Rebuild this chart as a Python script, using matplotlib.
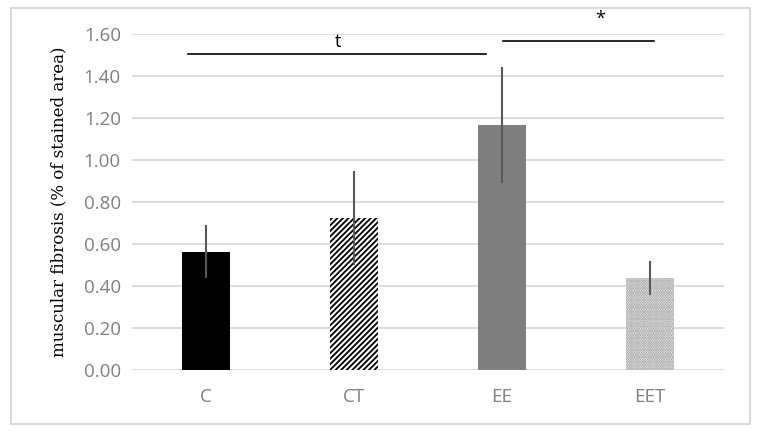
import matplotlib
matplotlib.use("Agg")
import matplotlib.pyplot as plt
from matplotlib.patches import Rectangle

categories = ["C", "CT", "EE", "EET"]
means = [0.562, 0.722, 1.166, 0.436]
errors = [0.127, 0.224, 0.277, 0.080]
yticks = [0.0, 0.2, 0.4, 0.6, 0.8, 1.0, 1.2, 1.4, 1.6]

plt.rcParams["hatch.linewidth"] = 1.3
fig = plt.figure(figsize=(7.59, 4.36), dpi=100)
# outer frame
fig.patches.append(Rectangle((11/759, 1-424/436), (750-11)/759, (424-8)/436,
                             transform=fig.transFigure, fill=False,
                             edgecolor="#d9d9d9", linewidth=1.5))
ax = fig.add_axes([132/759, 1-369.7/436, (724-132)/759, (369.7-34)/436])

x = list(range(len(categories)))
w = 0.32
fills = ["black", "white", "#7f7f7f", "white"]
hatches = [None, "//////", None, "......."]
edges = ["black", "black", "#7f7f7f", "#8c8c8c"]
for i in x:
    ax.bar(i, means[i], width=w, color=fills[i], hatch=hatches[i],
           edgecolor=edges[i], linewidth=0, zorder=3)
    ax.errorbar(i, means[i], yerr=errors[i], fmt="none", ecolor="#595959",
                elinewidth=1.5, capsize=0, zorder=4)

ax.set_xlim(-0.5, 3.5)
ax.set_ylim(0, 1.6)
ax.set_yticks(yticks)
ax.set_yticklabels([f"{v:.2f}" for v in yticks])
ax.set_xticks(x)
ax.set_xticklabels(categories)
ax.tick_params(length=0, labelsize=13.5, labelcolor="#7f7f7f", pad=8)
ax.tick_params(axis="x", pad=13)
for lab in ax.get_xticklabels() + ax.get_yticklabels():
    lab.set_fontfamily("Open Sans")
ax.grid(axis="y", color="#d9d9d9", linewidth=1.3, zorder=0)
for s in ax.spines.values():
    s.set_visible(False)
ax.set_ylabel("muscular fibrosis (% of stained area)", family="DejaVu Serif",
              fontsize=12, labelpad=12)

# significance annotations
ax.plot([-0.12, 1.89], [1.505, 1.505], color="black", lw=1.2, clip_on=False, zorder=5)
ax.text(0.89, 1.52, "t", ha="center", va="bottom", fontsize=13, family="Open Sans")
ax.plot([2.01, 3.03], [1.565, 1.565], color="black", lw=1.2, clip_on=False, zorder=5)
ax.text(2.66, 1.63, "*", ha="center", va="bottom", fontsize=13, family="Open Sans")

fig.savefig("out.png", dpi=100)
